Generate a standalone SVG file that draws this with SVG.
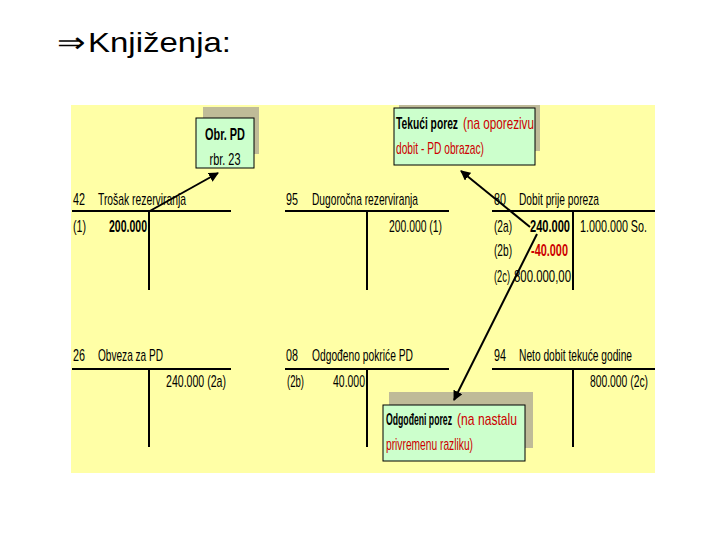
<svg xmlns="http://www.w3.org/2000/svg" width="720" height="540" viewBox="0 0 720 540">
<defs>
<style>
.t{font-family:"Liberation Sans Narrow","Arial Narrow","Liberation Sans",Arial,sans-serif;font-size:17px;fill:#000}
.b{font-weight:bold}
.r{fill:#CC0000}
.ln{stroke:#000;stroke-width:2;fill:none}
.shadow{fill:#BFBB98}
.box{fill:#CCFFCC;stroke:#000;stroke-width:1}
.h{font-family:"Liberation Sans",Arial,sans-serif;font-size:28px;fill:#000}
</style>
<marker id="ah" viewBox="0 0 10 10" refX="9" refY="5" markerWidth="5" markerHeight="5" orient="auto"><path d="M0,0 L10,5 L0,10 z" fill="#000"/></marker>
</defs>
<rect width="720" height="540" fill="#fff"/>
<text class="h" x="57" y="52"><tspan textLength="28" lengthAdjust="spacingAndGlyphs">⇒</tspan><tspan x="88" textLength="143" lengthAdjust="spacingAndGlyphs">Knjiženja:</tspan></text>
<rect x="71" y="105" width="584" height="368" fill="#FFFFA6"/>

<g id="obr-pd">
<rect class="shadow" x="203" y="107" width="56" height="47"/>
<rect class="box" x="196" y="118" width="58" height="50"/>
<text class="t b" x="225" y="140" text-anchor="middle" textLength="40" lengthAdjust="spacingAndGlyphs">Obr. PD</text>
<text class="t" x="225" y="165" text-anchor="middle" textLength="31" lengthAdjust="spacingAndGlyphs">rbr. 23</text>
</g>

<g id="tekuci-porez">
<rect class="shadow" x="399" y="105" width="141" height="46"/>
<rect class="box" x="394" y="108" width="141" height="57"/>
<text class="t b" x="396" y="129" textLength="62" lengthAdjust="spacingAndGlyphs">Tekući porez</text>
<text class="t r" x="463" y="129" textLength="71" lengthAdjust="spacingAndGlyphs">(na oporezivu</text>
<text class="t r" x="396" y="154" textLength="88" lengthAdjust="spacingAndGlyphs">dobit - PD obrazac)</text>
</g>

<g id="odgodeni-porez">
<rect class="shadow" x="389" y="392" width="144" height="56"/>
<rect class="box" x="383" y="405" width="142" height="56"/>
<text class="t b" x="386" y="425" textLength="66" lengthAdjust="spacingAndGlyphs">Odgođeni porez</text>
<text class="t r" x="457" y="425" textLength="60" lengthAdjust="spacingAndGlyphs">(na nastalu</text>
<text class="t r" x="386" y="450" textLength="87" lengthAdjust="spacingAndGlyphs">privremenu razliku)</text>
</g>

<g id="acc-42">
<text class="t" x="73" y="205" textLength="12" lengthAdjust="spacingAndGlyphs">42</text>
<text class="t" x="98" y="205" textLength="88" lengthAdjust="spacingAndGlyphs">Trošak rezerviranja</text>
<path class="ln" d="M72,211 H231 M149,211 V290"/>
<text class="t" x="73" y="232" textLength="13" lengthAdjust="spacingAndGlyphs">(1)</text>
<text class="t b" x="147" y="232" text-anchor="end" textLength="38" lengthAdjust="spacingAndGlyphs">200.000</text>
</g>

<g id="acc-95">
<text class="t" x="286" y="205" textLength="12" lengthAdjust="spacingAndGlyphs">95</text>
<text class="t" x="312" y="205" textLength="106" lengthAdjust="spacingAndGlyphs">Dugoročna rezerviranja</text>
<path class="ln" d="M285,211 H449 M367,211 V290"/>
<text class="t" x="389" y="232" textLength="53" lengthAdjust="spacingAndGlyphs">200.000 (1)</text>
</g>

<g id="acc-80">
<text class="t" x="494" y="205" textLength="12" lengthAdjust="spacingAndGlyphs">80</text>
<text class="t" x="519" y="205" textLength="80" lengthAdjust="spacingAndGlyphs">Dobit prije poreza</text>
<path class="ln" d="M492,211 H655 M573,211 V290"/>
<text class="t" x="494" y="232" textLength="18" lengthAdjust="spacingAndGlyphs">(2a)</text>
<text class="t b" x="570" y="232" text-anchor="end" textLength="40" lengthAdjust="spacingAndGlyphs">240.000</text>
<text class="t" x="580" y="232" textLength="67" lengthAdjust="spacingAndGlyphs">1.000.000 So.</text>
<text class="t" x="494" y="256" textLength="18" lengthAdjust="spacingAndGlyphs">(2b)</text>
<text class="t b r" x="568" y="256" text-anchor="end" textLength="37" lengthAdjust="spacingAndGlyphs">-40.000</text>
<text class="t" x="494" y="282" textLength="16" lengthAdjust="spacingAndGlyphs">(2c)</text>
<text class="t" x="571" y="282" text-anchor="end" textLength="57" lengthAdjust="spacingAndGlyphs">800.000,00</text>
</g>

<g id="acc-26">
<text class="t" x="73" y="361" textLength="12" lengthAdjust="spacingAndGlyphs">26</text>
<text class="t" x="98" y="361" textLength="65" lengthAdjust="spacingAndGlyphs">Obveza za PD</text>
<path class="ln" d="M72,369 H231 M149,369 V447"/>
<text class="t" x="166" y="387" textLength="60" lengthAdjust="spacingAndGlyphs">240.000 (2a)</text>
</g>

<g id="acc-08">
<text class="t" x="286" y="361" textLength="12" lengthAdjust="spacingAndGlyphs">08</text>
<text class="t" x="312" y="361" textLength="101" lengthAdjust="spacingAndGlyphs">Odgođeno pokriće PD</text>
<path class="ln" d="M285,369 H449 M367,369 V447"/>
<text class="t" x="287" y="387" textLength="17" lengthAdjust="spacingAndGlyphs">(2b)</text>
<text class="t" x="365" y="387" text-anchor="end" textLength="32" lengthAdjust="spacingAndGlyphs">40.000</text>
</g>

<g id="acc-94">
<text class="t" x="494" y="361" textLength="12" lengthAdjust="spacingAndGlyphs">94</text>
<text class="t" x="519" y="361" textLength="113" lengthAdjust="spacingAndGlyphs">Neto dobit tekuće godine</text>
<path class="ln" d="M492,369 H655 M573,369 V447"/>
<text class="t" x="590" y="387" textLength="58" lengthAdjust="spacingAndGlyphs">800.000 (2c)</text>
</g>

<g id="connectors" stroke="#000" stroke-width="2" fill="none">
<line x1="148" y1="212" x2="218" y2="173" marker-end="url(#ah)"/>
<line x1="530" y1="227" x2="461" y2="171" marker-end="url(#ah)"/>
<line x1="537" y1="234" x2="454" y2="400" marker-end="url(#ah)"/>
</g>
</svg>
